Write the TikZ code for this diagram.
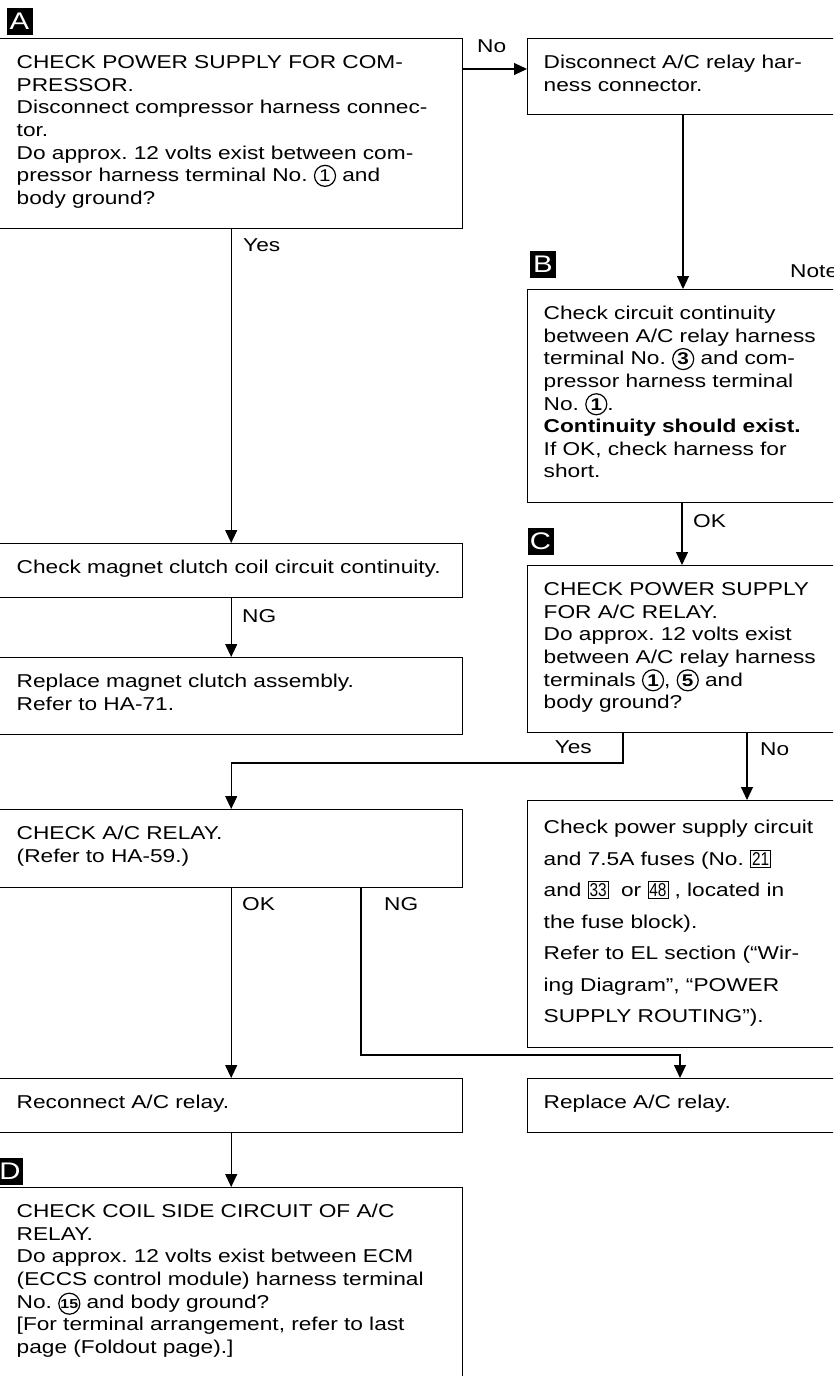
\documentclass[tikz,border=0pt]{standalone}
\usepackage{fontspec}
\setmainfont{Liberation Sans}[FakeStretch=1.22]
\usepackage{graphicx}
\usetikzlibrary{arrows.meta}

% circled terminal number and boxed fuse number
\newcommand{\term}[2][]{\tikz[baseline=(tn.base)]\node[draw, circle, anchor=center, align=center,
  text width=, text height=, text depth=, line width=1.2pt, inner sep=0pt, minimum size=21pt,
  font=\fontsize{17}{17}\selectfont#1] (tn) {#2};}
\newcommand{\fuse}[1]{\tikz[baseline=(fn.base)]\node[draw, anchor=center, align=center,
  text width=, text height=, text depth=, line width=0.8pt, inner xsep=1.5pt, inner ysep=2pt,
  font=\fontsize{18.6}{18.6}\selectfont] (fn) {\scalebox{0.68}[1]{#1}};}

\begin{document}
\frenchspacing
\begin{tikzpicture}[
  x=1pt, y=-1pt,
  box/.style={draw, line width=1.4pt, anchor=north west, align=left,
    font=\fontsize{18.6}{22.6}\selectfont, text height=14pt, inner ysep=16pt},
  lbox/.style={box, text width=429pt, inner xsep=17pt},
  rbox/.style={box, text width=301pt, inner xsep=16pt},
  tag/.style={fill=black, text=white, font=\fontsize{24}{24}\selectfont,
    minimum width=26pt, minimum height=27pt, inner sep=0pt},
  lbl/.style={font=\fontsize{18.6}{22.6}\selectfont, inner sep=0pt, anchor=base west},
  line/.style={line width=1.1pt},
  >={Triangle[length=13pt, width=12pt]}
]
\useasboundingbox (0,0) rectangle (833,1376);
\clip (0,0) rectangle (833,1376);

% left column
\node[lbox, text depth=144pt] (chkcomp) at (-1,38) {CHECK POWER SUPPLY FOR COM-\\
  PRESSOR.\\
  Disconnect compressor harness connec-\\
  tor.\\
  Do approx. 12 volts exist between com-\\
  pressor harness terminal No. \term{1} and\\
  body ground?};
\node[lbox, text depth=8pt] (clutch) at (-1,543) {Check magnet clutch coil circuit continuity.};
\node[lbox, text depth=31pt] (repclutch) at (-1,657) {Replace magnet clutch assembly.\\
  Refer to HA-71.};
\node[lbox, text depth=32pt] (chkrelay) at (-1,809) {CHECK A/C RELAY.\\
  (Refer to HA-59.)};
\node[lbox, text depth=8pt] (reconn) at (-1,1078) {Reconnect A/C relay.};
\node[lbox, text depth=167pt] (chkcoil) at (-1,1187) {CHECK COIL SIDE CIRCUIT OF A/C\\
  RELAY.\\
  Do approx. 12 volts exist between ECM\\
  (ECCS control module) harness terminal\\
  No. \term[\fontsize{13}{13}\selectfont\bfseries]{15} and body ground?\\{}
  [For terminal arrangement, refer to last\\
  page (Foldout page).]};

% right column
\node[rbox, text depth=30pt] (disconn) at (527,38) {Disconnect A/C relay har-\\
  ness connector.};
\node[rbox, text depth=167pt] (contin) at (527,289) {Check circuit continuity\\
  between A/C relay harness\\
  terminal No. \term[\bfseries]{3} and com-\\
  pressor harness terminal\\
  No. \term[\bfseries]{1}.\\
  \textbf{Continuity should exist.}\\
  If OK, check harness for\\
  short.};
\node[rbox, text depth=121pt] (chkpwr) at (527,565) {CHECK POWER SUPPLY\\
  FOR A/C RELAY.\\
  Do approx. 12 volts exist\\
  between A/C relay harness\\
  terminals \term[\bfseries]{1}, \term[\bfseries]{5} and\\
  body ground?};
\node[rbox, text height=17pt, text depth=198pt, font=\fontsize{18.6}{31.5}\selectfont]
  (pwrcirc) at (527,800) {Check power supply circuit\\
  and 7.5A fuses (No. \fuse{21}\\
  and \fuse{33}\ \ or \fuse{48} , located in\\
  the fuse block).\\
  Refer to EL section (“Wir-\\
  ing Diagram”, “POWER\\
  SUPPLY ROUTING”).};
\node[rbox, text depth=8pt] (reprelay) at (527,1078) {Replace A/C relay.};

% step tags
\node[tag] (tagA) at (19.5,21.5) {A};
\node[tag] (tagB) at (543,264.5) {B};
\node[tag] (tagC) at (540.5,541) {C};
\node[tag] (tagD) at (10,1171) {D};
\node[lbl] (note) at (790,277) {Note};

% connector turning points
\coordinate (noY) at (0,69);
\coordinate (colR) at (683,0);
\coordinate (okR) at (682,0);
\coordinate (yesX) at (623,763);
\coordinate (noX) at (747,0);
\coordinate (ngX) at (361,1055);
\coordinate (ngTurn) at (680,1055);

\draw[line,->] (chkcomp.north east |- noY) -- (disconn.west |- noY);
\draw[line,->] (chkcomp.south) -- (clutch.north);
\draw[line,->] (clutch.south) -- (repclutch.north);
\draw[line,->] (disconn.south -| colR) -- (contin.north -| colR);
\draw[line,->] (contin.south -| okR) -- (chkpwr.north -| okR);
\draw[line,->] (chkpwr.south -| yesX) -- (yesX) -| (chkrelay.north);
\draw[line,->] (chkpwr.south -| noX) -- (pwrcirc.north -| noX);
\draw[line,->] (chkrelay.south) -- (reconn.north);
\draw[line,->] (chkrelay.south -| ngX) -- (ngX) -- (ngTurn) -- (reprelay.north -| ngTurn);
\draw[line,->] (reconn.south) -- (chkcoil.north);

% branch labels
\node[lbl] (lNo) at (477,52) {No};
\node[lbl] (lYesA) at (243,251) {Yes};
\node[lbl] (lNgClutch) at (242,622) {NG};
\node[lbl] (lOkB) at (693,527) {OK};
\node[lbl, anchor=base east] (lYesC) at (592,753) {Yes};
\node[lbl] (lNoC) at (760,755) {No};
\node[lbl] (lOkRelay) at (242,910) {OK};
\node[lbl] (lNgRelay) at (384,910) {NG};
\end{tikzpicture}
\end{document}
